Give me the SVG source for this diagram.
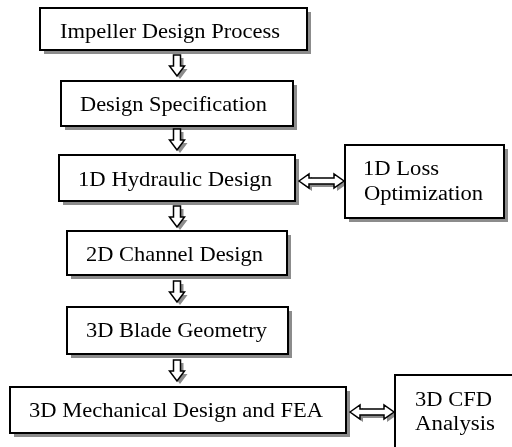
<svg xmlns="http://www.w3.org/2000/svg" xmlns:xlink="http://www.w3.org/1999/xlink" width="512" height="447" viewBox="0 0 512 447">
  <style>
    .box { fill: #ffffff; stroke: #000000; stroke-width: 2; }
    .shadow { fill: #8c8c8c; }
    .arrow { fill: #ffffff; stroke: #000000; stroke-width: 1.5; stroke-linejoin: miter; }
    .label { font-family: "Liberation Serif", "Times New Roman", serif; font-size: 22px; fill: #000000; }
    .side { font-size: 20px; }
  </style>
  <defs>
    <filter id="soft" x="-10%" y="-10%" width="120%" height="120%">
      <feGaussianBlur stdDeviation="0.7"/>
    </filter>
    <!-- hollow down arrow, origin at top centre -->
    <path id="down" d="M-3.5,0 H3.5 V11 H7.5 L0,21 L-7.5,11 H-3.5 Z"/>
  </defs>
  <rect width="512" height="447" fill="#ffffff"/>

  <!-- drop shadows -->
  <g class="shadow" filter="url(#soft)">
    <rect x="44" y="12" width="267" height="42"/>
    <rect x="65" y="85" width="232" height="45"/>
    <rect x="63" y="159" width="236" height="46"/>
    <rect x="71" y="235" width="220" height="44"/>
    <rect x="71" y="311" width="221" height="47"/>
    <rect x="14" y="391" width="336" height="46"/>
    <rect x="349" y="149" width="159" height="73"/>
  </g>

  <g id="connectors">
    <g class="shadow" filter="url(#soft)">
      <use xlink:href="#down" transform="translate(180,58)"/>
      <use xlink:href="#down" transform="translate(180,132)"/>
      <use xlink:href="#down" transform="translate(180,209)"/>
      <use xlink:href="#down" transform="translate(180,284)"/>
      <use xlink:href="#down" transform="translate(180,363)"/>
      <path d="M302,184 l10,-7 v4 h25 v-4 l10,7 l-10,7 v-4 h-25 v4 Z"/>
      <path d="M353,415 l10,-7 v4 h24 v-4 l10,7 l-10,7 v-4 h-24 v4 Z"/>
    </g>
    <g class="arrow">
      <use xlink:href="#down" transform="translate(177,55)"/>
      <use xlink:href="#down" transform="translate(177,129)"/>
      <use xlink:href="#down" transform="translate(177,206)"/>
      <use xlink:href="#down" transform="translate(177,281)"/>
      <use xlink:href="#down" transform="translate(177,360)"/>
      <path d="M299,181 l10,-7 v4 h25 v-4 l10,7 l-10,7 v-4 h-25 v4 Z"/>
      <path d="M350,412 l10,-7 v4 h24 v-4 l10,7 l-10,7 v-4 h-24 v4 Z"/>
    </g>
  </g>

  <g id="impeller-design-process">
    <rect class="box" x="40" y="8" width="267" height="42"/>
    <text class="label" x="60" y="38" textLength="220" lengthAdjust="spacingAndGlyphs">Impeller Design Process</text>
  </g>
  <g id="design-specification">
    <rect class="box" x="61" y="81" width="232" height="45"/>
    <text class="label" x="80" y="111" textLength="187" lengthAdjust="spacingAndGlyphs">Design Specification</text>
  </g>
  <g id="hydraulic-design-1d">
    <rect class="box" x="59" y="155" width="236" height="46"/>
    <text class="label" x="78" y="186" textLength="194" lengthAdjust="spacingAndGlyphs">1D Hydraulic Design</text>
  </g>
  <g id="loss-optimization-1d">
    <rect class="box" x="345" y="145" width="159" height="73"/>
    <text class="label side" x="363" y="175" textLength="76" lengthAdjust="spacingAndGlyphs">1D Loss</text>
    <text class="label side" x="364" y="200" textLength="119" lengthAdjust="spacingAndGlyphs">Optimization</text>
  </g>
  <g id="channel-design-2d">
    <rect class="box" x="67" y="231" width="220" height="44"/>
    <text class="label" x="86" y="261" textLength="177" lengthAdjust="spacingAndGlyphs">2D Channel Design</text>
  </g>
  <g id="blade-geometry-3d">
    <rect class="box" x="67" y="307" width="221" height="47"/>
    <text class="label" x="86" y="337" textLength="181" lengthAdjust="spacingAndGlyphs">3D Blade Geometry</text>
  </g>
  <g id="mechanical-design-fea">
    <rect class="box" x="10" y="387" width="336" height="46"/>
    <text class="label" x="29" y="417" textLength="294" lengthAdjust="spacingAndGlyphs">3D Mechanical Design and FEA</text>
  </g>
  <g id="cfd-analysis-3d">
    <rect class="box" x="395" y="375" width="130" height="85"/>
    <text class="label side" x="415" y="406" textLength="77" lengthAdjust="spacingAndGlyphs">3D CFD</text>
    <text class="label side" x="415" y="430" textLength="80" lengthAdjust="spacingAndGlyphs">Analysis</text>
  </g>
</svg>
